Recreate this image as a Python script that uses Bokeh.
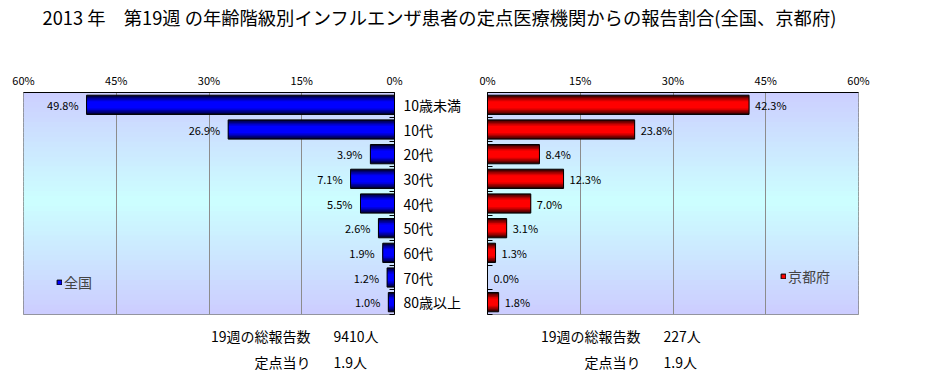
from bokeh.plotting import figure
from bokeh.models import (Range1d, FixedTicker, PrintfTickFormatter, CustomJSTickFormatter,
                          Label, LabelSet, ColumnDataSource, Legend, LegendItem)
from bokeh.core.properties import value
from bokeh.layouts import column, row
from bokeh.embed import file_html
from bokeh.resources import INLINE

# ---------------- data ----------------
categories = ["10歳未満", "10代", "20代", "30代", "40代", "50代", "60代", "70代", "80歳以上"]
national = [49.8, 26.9, 3.9, 7.1, 5.5, 2.6, 1.9, 1.2, 1.0]
kyoto = [42.3, 23.8, 8.4, 12.3, 7.0, 3.1, 1.3, 0.0, 1.8]
tick_values = [0, 15, 30, 45, 60]
title_text = "2013 年　第19週 の年齢階級別インフルエンザ患者の定点医療機関からの報告割合(全国、京都府)"
total_label = "19週の総報告数"
per_label = "定点当り"
national_total = "9410人"
national_per = "1.9人"
kyoto_total = "227人"
kyoto_per = "1.9人"
national_name = "全国"
kyoto_name = "京都府"

FONT = "Noto Sans CJK JP"
XMAX = 60
TOTAL_W = 924
TITLE_H = 48
PANEL_H = 274
BOTTOM_H = 48


def bg_colors(n):
    cols = []
    for k in range(n):
        yc = 9 * (k + 0.5) / n
        t = max(0.0, 1 - abs(yc - 4.4) / 4.6)
        g = int(round(204 + 51 * t))
        cols.append("#%02x%02x%02x" % (204, g, 255))
    return cols


def make_panel(values, left_side, width, b_left, b_right, b_top, b_bottom,
               shades, legend_name, legend_loc):
    xr = Range1d(XMAX, 0) if left_side else Range1d(0, XMAX)
    p = figure(width=width, height=PANEL_H, x_range=xr, y_range=Range1d(9, 0),
               x_axis_location="above", y_axis_location="right" if left_side else "left",
               toolbar_location=None, output_backend="svg",
               min_border_left=b_left, min_border_right=b_right,
               min_border_top=b_top, min_border_bottom=b_bottom)
    p.outline_line_color = "#808080"
    p.border_fill_color = "white"
    p.background_fill_color = "white"

    # value axis (top)
    xa = p.xaxis[0]
    xa.ticker = FixedTicker(ticks=tick_values)
    xa.formatter = PrintfTickFormatter(format="%d%%")
    xa.major_tick_in = 0
    xa.major_tick_out = 0
    xa.minor_tick_in = 0
    xa.minor_tick_out = 0
    xa.major_label_standoff = 5
    xa.major_label_text_font = FONT
    xa.major_label_text_font_size = "11px"
    xa.major_label_text_color = "black"
    xa.axis_line_color = "black"

    p.xgrid.ticker = FixedTicker(ticks=tick_values)
    p.xgrid.grid_line_color = "#8c8c8c"
    p.ygrid.visible = False

    # category axis
    ya = p.yaxis[0]
    ya.ticker = FixedTicker(ticks=[i + 0.5 for i in range(len(categories))],
                            minor_ticks=list(range(len(categories) + 1)))
    if left_side:
        ya.formatter = CustomJSTickFormatter(args=dict(cats=categories),
                                             code="return cats[Math.floor(tick)] || '';")
    else:
        ya.formatter = CustomJSTickFormatter(code="return '';")
    ya.major_tick_in = 0
    ya.major_tick_out = 0
    ya.minor_tick_in = 5
    ya.minor_tick_out = 0
    ya.minor_tick_line_color = "black"
    ya.major_label_standoff = 9
    ya.major_label_text_font = FONT
    ya.major_label_text_font_size = "14px"
    ya.major_label_text_color = "black"
    ya.axis_line_color = "black"

    # gradient backdrop
    n = 45
    cols = bg_colors(n)
    tops = [9 * k / n for k in range(n)]
    bots = [min(9, 9 * (k + 1) / n + 0.03) for k in range(n)]
    p.quad(left=0, right=XMAX, top=tops, bottom=bots, fill_color=cols,
           line_color=None, level="image")

    # bars (layered for the cylinder-like shading)
    src = ColumnDataSource(dict(y=[i + 0.5 for i in range(len(categories))],
                                v=values,
                                label=["%.1f%%" % v for v in values]))
    heights = [0.78, 0.66, 0.54, 0.42, 0.30]
    rs = []
    for h, c in zip(heights, shades):
        rs.append(p.hbar(y="y", left=0, right="v", height=h, source=src,
                         fill_color=c, line_color=None))
    outline = p.hbar(y="y", left=0, right="v", height=0.78, source=src,
                     fill_alpha=0, line_color="black", line_width=1)

    labels = LabelSet(x="v", y="y", text="label", source=src,
                      x_offset=-8 if left_side else 6,
                      text_align="right" if left_side else "left",
                      text_baseline="middle", text_font=value(FONT),
                      text_font_size="11px", text_color="black")
    p.add_layout(labels)

    legend = Legend(items=[LegendItem(label=legend_name, renderers=[rs[-1], outline])],
                    location=legend_loc, glyph_width=6, glyph_height=6,
                    label_height=14, label_standoff=2, padding=0, margin=0,
                    border_line_color=None, background_fill_alpha=0,
                    label_text_font=FONT, label_text_font_size="14px")
    p.add_layout(legend)
    return p


blue_shades = ["#000038", "#000070", "#0000a8", "#0000d8", "#0000ff"]
red_shades = ["#380000", "#700000", "#a80000", "#d80000", "#ff0000"]

# left panel: frame x 23..394, y 89..314 ; right panel: frame x 487..858, y 92..317
LEFT_W = 472
left = make_panel(national, True, LEFT_W, 23, LEFT_W - 394, 89 - TITLE_H,
                  TITLE_H + PANEL_H - 314, blue_shades, national_name, (33, 22))
right = make_panel(kyoto, False, TOTAL_W - LEFT_W, 487 - LEFT_W, TOTAL_W - 858,
                   92 - TITLE_H, TITLE_H + PANEL_H - 317, red_shades, kyoto_name, (293, 28))


def text_strip(height, items):
    f = figure(width=TOTAL_W, height=height, x_range=Range1d(0, TOTAL_W),
               y_range=Range1d(height, 0), toolbar_location=None, output_backend="svg",
               x_axis_type=None, y_axis_type=None,
               min_border_left=0, min_border_right=0, min_border_top=0, min_border_bottom=0)
    f.outline_line_color = None
    f.grid.visible = False
    for (x, y, txt, align, size) in items:
        f.add_layout(Label(x=x, y=y, text=txt, text_align=align, text_baseline="middle",
                           text_font=FONT, text_font_size=size, text_color="black"))
    return f


title_fig = text_strip(TITLE_H, [(42, 16.7, title_text, "left", "18.3px")])

y0 = TITLE_H + PANEL_H
bottom_fig = text_strip(BOTTOM_H, [
    (310, 335 - y0, total_label, "right", "14px"),
    (333, 335 - y0, national_total, "left", "14px"),
    (310, 361 - y0, per_label, "right", "14px"),
    (333, 361 - y0, national_per, "left", "14px"),
    (640, 335 - y0, total_label, "right", "14px"),
    (663, 335 - y0, kyoto_total, "left", "14px"),
    (640, 361 - y0, per_label, "right", "14px"),
    (663, 361 - y0, kyoto_per, "left", "14px"),
])

layout = column(title_fig, row(left, right), bottom_fig)
open("out.html", "w").write(file_html(layout, INLINE))
